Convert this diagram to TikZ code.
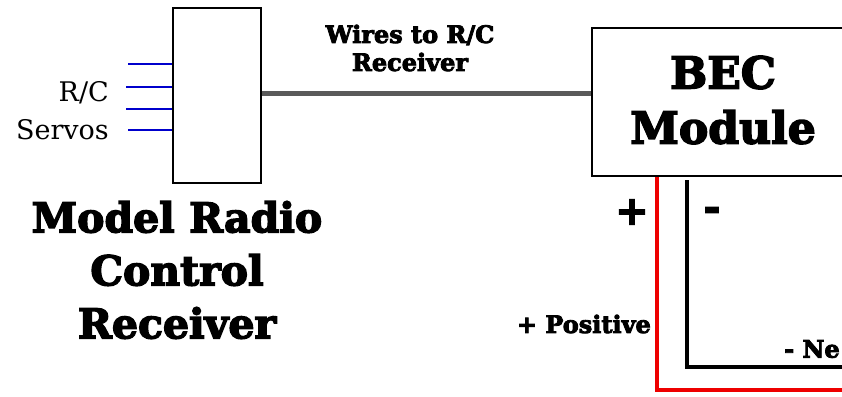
\documentclass[tikz,border=0pt]{standalone}
\usepackage{fontspec}
\setmainfont{DejaVu Serif}[BoldFeatures={FakeBold=3.5}]
\definecolor{servoblue}{HTML}{0000CC}
\definecolor{wiregray}{HTML}{5A5A5A}
\definecolor{posred}{HTML}{EE0000}
\begin{document}
\begin{tikzpicture}[x=1pt,y=-1pt,
  box/.style={draw=black,line width=2.6pt,rectangle,inner sep=0pt},
  servo/.style={draw=servoblue,line width=2.6pt},
  wire/.style={draw=wiregray,line width=5pt},
  poswire/.style={draw=posred,line width=4.8pt},
  negwire/.style={draw=black,line width=4.8pt},
  lbl/.style={inner sep=0pt,font=\bfseries}
]
\useasboundingbox (0,0) rectangle (842,396);
\clip (0,0) rectangle (842,396);
\fill[white] (0,0) rectangle (842,396);
% receiver box
\node[box,minimum width=88pt,minimum height=175pt] (rx) at (217,95.5) {};
% BEC box
\node[box,minimum width=260pt,minimum height=148pt] (bec) at (722,102) {};
\node[lbl,align=center,font=\fontsize{44}{55}\selectfont\bfseries] (bect) at (723,100) {BEC\\Module};
% servo lines
\coordinate (s1) at (128,64);
\coordinate (s2) at (126,87);
\coordinate (s3) at (126,109);
\coordinate (s4) at (128,130);
\foreach \s in {s1,s2,s3,s4} \draw[servo] (\s) -- (\s -| rx.west);
\node[inner sep=0pt,anchor=east,align=right,font=\fontsize{27}{38}\selectfont] (servos) at (109,111) {R/C\\Servos};
% wire to receiver
\coordinate (wy) at (0,93);
\draw[wire] (rx.east |- wy) -- (bec.west |- wy);
\node[lbl,align=center,font=\fontsize{24}{28}\selectfont\bfseries] (wires) at (410,48) {Wires to R/C\\Receiver};
% receiver caption
\node[lbl,align=center,font=\fontsize{41}{53}\selectfont\bfseries] (cap) at (177,270) {Model Radio\\Control\\Receiver};
% power wires
\coordinate (px) at (657,0);
\coordinate (pend) at (860,390);
\draw[poswire] (bec.south -| px) |- (pend);
\coordinate (nstart) at (687,180);
\coordinate (nend) at (860,367);
\draw[negwire] (nstart) |- (nend);
\node[lbl,font=\fontsize{40}{40}\selectfont\bfseries] (plus) at (632,212) {+};
\node[lbl,font=\fontsize{40}{40}\selectfont\bfseries] (minus) at (712,214) {-};
\node[lbl,anchor=east,font=\fontsize{24}{24}\selectfont\bfseries] (posl) at (651,324) {+ Positive};
\node[lbl,anchor=west,font=\fontsize{24}{24}\selectfont\bfseries] (negl) at (784,349) {- Ne};
\end{tikzpicture}
\end{document}
